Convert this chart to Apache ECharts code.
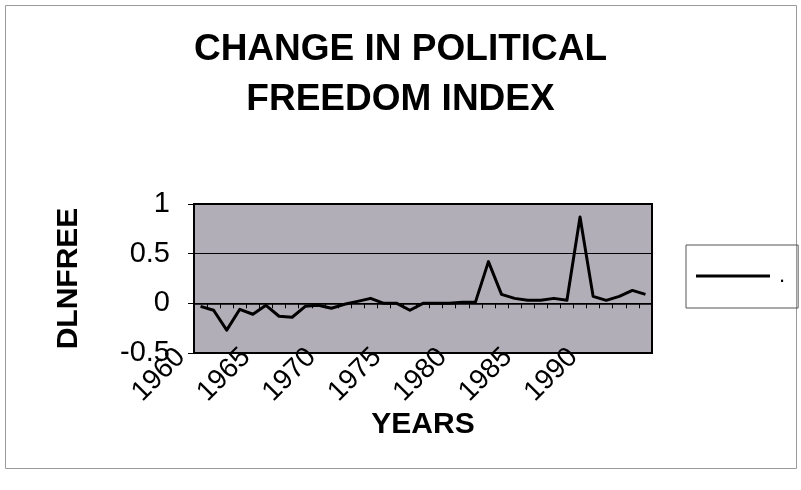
<!DOCTYPE html>
<html>
<head>
<meta charset="utf-8">
<script src="https://cdn.jsdelivr.net/npm/echarts@6/dist/echarts.min.js"></script>
<style>
  html, body { margin: 0; padding: 0; background: #ffffff; }
  #chart { width: 801px; height: 490px; }
</style>
</head>
<body>
<div id="chart"></div>
<script>
// Year categories of the differenced series
const years = ['1960','1961','1962','1963','1964','1965','1966','1967','1968','1969',
               '1970','1971','1972','1973','1974','1975','1976','1977','1978','1979',
               '1980','1981','1982','1983','1984','1985','1986','1987','1988','1989',
               '1990','1991','1992','1993','1994'];
// Change in the log of the political freedom index
const dlnfree = [-0.03, -0.07, -0.27, -0.06, -0.11, -0.02, -0.13, -0.14, -0.03, -0.02,
                 -0.05, -0.01,  0.02,  0.05,  0.00,  0.00, -0.07,  0.00,  0.00,  0.00,
                  0.01,  0.01,  0.42,  0.09,  0.05,  0.03,  0.03,  0.05,  0.03,  0.87,
                  0.07,  0.03,  0.07,  0.13,  0.09];
// Years that carry a tick label on the category axis
const labelYears = ['1960','1965','1970','1975','1980','1985','1990'];
// Value axis range and step
const yMin = -0.5, yMax = 1, yStep = 0.5;
const seriesName = '.';

const FONT = '"Liberation Sans", Arial, Helvetica, sans-serif';
const chart = echarts.init(document.getElementById('chart'), null, { renderer: 'canvas' });

chart.setOption({
  animation: false,
  backgroundColor: '#ffffff',
  textStyle: { fontFamily: FONT, color: '#000' },
  title: {
    text: 'CHANGE IN POLITICAL\nFREEDOM INDEX',
    left: 'center',
    top: 20,
    textStyle: { fontFamily: FONT, fontSize: 37, fontWeight: 'bold', color: '#000', lineHeight: 50 }
  },
  graphic: [{
    type: 'rect',
    silent: true,
    z: -10,
    shape: { x: 5.5, y: 5.5, width: 791, height: 463 },
    style: { fill: null, stroke: '#9a9a9a', lineWidth: 1 }
  }],
  legend: {
    data: [{ name: seriesName, icon: 'rect' }],
    left: 686,
    top: 245,
    padding: [20, 13, 21, 10],
    itemWidth: 74,
    itemHeight: 3,
    borderColor: '#555',
    borderWidth: 1,
    textStyle: { fontFamily: FONT, fontSize: 22, color: '#000', padding: [0, 0, 0, 4] }
  },
  grid: {
    show: true,
    left: 194, top: 204, right: 149, bottom: 137,
    backgroundColor: '#b2aeb8',
    borderColor: '#000',
    borderWidth: 2
  },
  xAxis: [
    {
      // zero line with boundary ticks
      type: 'category',
      data: years,
      boundaryGap: true,
      axisLine: { onZero: true, lineStyle: { color: '#000', width: 1.5 } },
      axisTick: { show: true, interval: 0, length: 5, lineStyle: { color: '#000', width: 1 } },
      axisLabel: { show: false },
      splitLine: { show: false }
    },
    {
      // year labels along the bottom of the plot
      type: 'category',
      data: years,
      boundaryGap: true,
      position: 'bottom',
      axisLine: { show: false, onZero: false },
      axisTick: { show: false },
      splitLine: { show: false },
      axisLabel: {
        interval: function (index, value) { return labelYears.indexOf(value) !== -1; },
        rotate: 45,
        fontFamily: FONT,
        fontSize: 28,
        color: '#000',
        margin: -20,
        padding: [0, 28, 55, 0]
      },
      name: 'YEARS',
      nameLocation: 'middle',
      nameGap: 56,
      nameTextStyle: { fontFamily: FONT, fontSize: 30, fontWeight: 'bold', color: '#000' }
    }
  ],
  yAxis: {
    type: 'value',
    min: yMin,
    max: yMax,
    interval: yStep,
    axisLine: { show: true, lineStyle: { color: '#000', width: 2 } },
    axisTick: { show: true, length: 6, lineStyle: { color: '#000', width: 1 } },
    axisLabel: { fontFamily: FONT, fontSize: 29, color: '#000', margin: 24 },
    splitLine: { show: true, lineStyle: { color: '#000', width: 1 } },
    name: 'DLNFREE',
    nameLocation: 'middle',
    nameRotate: 90,
    nameGap: 110,
    nameTextStyle: { fontFamily: FONT, fontSize: 30, fontWeight: 'bold', color: '#000' }
  },
  series: [{
    type: 'line',
    name: seriesName,
    data: dlnfree,
    xAxisIndex: 0,
    showSymbol: false,
    symbol: 'none',
    lineStyle: { color: '#000', width: 3, join: 'round' },
    itemStyle: { color: '#000' }
  }]
});
</script>
</body>
</html>
